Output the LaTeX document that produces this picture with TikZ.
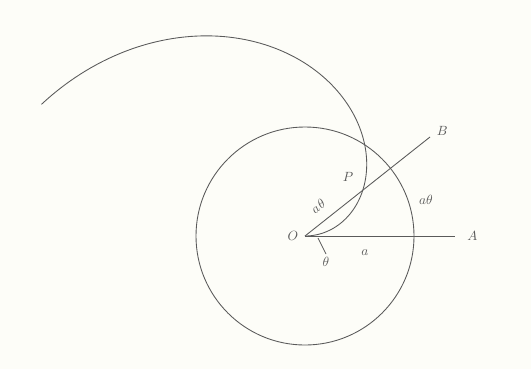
\documentclass[tikz,border=0pt]{standalone}
\usepackage{amsmath,amssymb}
\usepackage{xcolor}
\usetikzlibrary{positioning,calc}
\definecolor{inkgray}{RGB}{90, 90, 90}
\definecolor{paperbg}{RGB}{253, 253, 248}

\begin{document}
\begin{tikzpicture}[
    x=0.75pt, y=-0.75pt,
    font=\normalsize,
    curve/.style={draw=inkgray, line width=0.65pt},
    lbl/.style={text=inkgray, inner sep=1pt}
]
    \fill[paperbg] (0,0) rectangle (531,369);
    \useasboundingbox (0,0) rectangle (531,369);

    \coordinate (O) at (305,236);
    \coordinate (A) at (455,236);
    \coordinate (B) at (430,137);
    \coordinate (P) at ($(O)!0.59!(B)$);
    \coordinate (tick) at (326,254);

    % base circle of radius a
    \draw[curve] (O) circle (109);
    % spiral r = a theta
    \draw[curve] plot[domain=0:2.68, samples=120, variable=\t]
        ({305 + 110*\t*cos(\t r)}, {236 - 110*\t*sin(\t r)});

    \draw[curve] (O) -- (A);
    \draw[curve] (O) -- (B);
    \draw[curve] ($(O)+(13,2)$) -- (tick);

    \node[lbl, left=4pt of O] (lO) {$O$};
    \node[lbl, right=8pt of A] (lA) {$A$};
    \node[lbl, above right=0pt and 4pt of B] (lB) {$B$};
    \node[lbl] (lP) at (348,177) {$P$};
    \node[lbl, rotate=40, inner sep=0pt] (laq) at (318,206) {$a\mkern1.5mu\theta$};
    \node[lbl] (larc) at (426,200) {$a\theta$};
    \node[lbl] (la) at (365,253) {$a$};
    \node[lbl, below=1pt of tick] (lq) {$\theta$};
\end{tikzpicture}
\end{document}
